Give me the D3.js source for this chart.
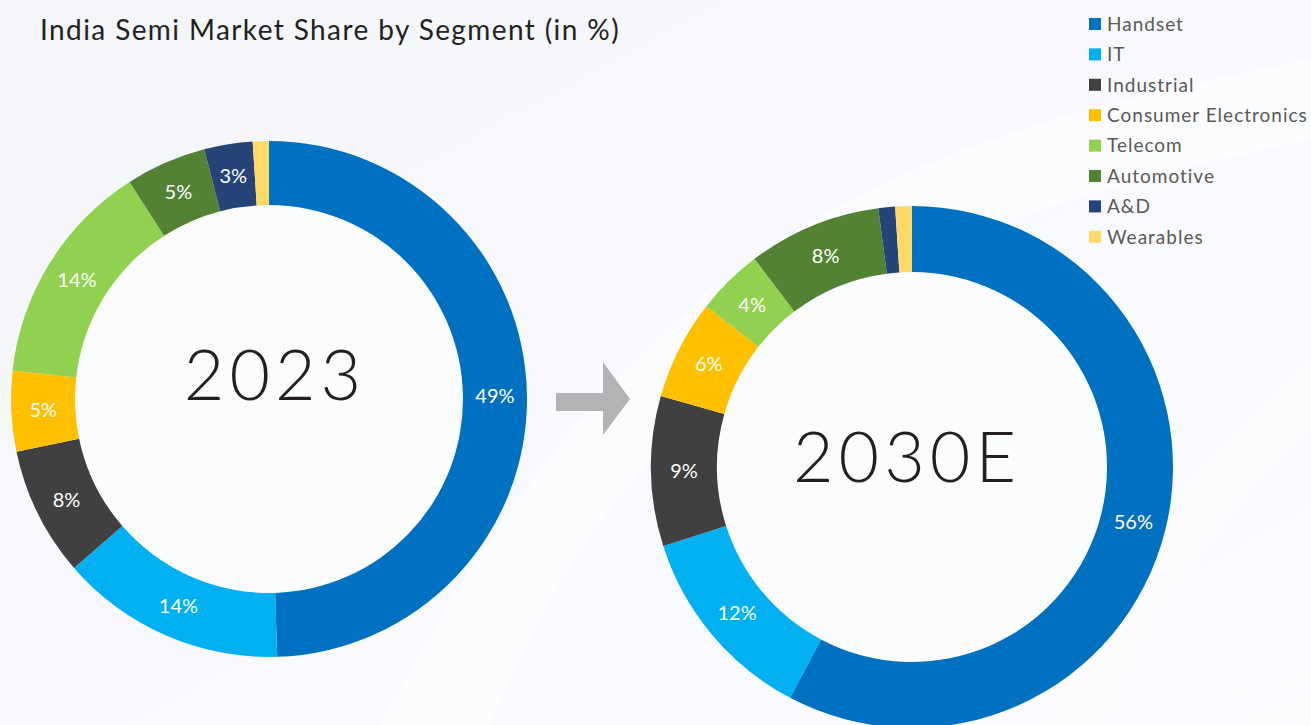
<!DOCTYPE html>
<html>
<head>
<meta charset="utf-8">
<script src="https://cdn.jsdelivr.net/npm/d3@7"></script>
<style>
  body { margin: 0; background: #f6f8fb; overflow: hidden; }
  text { font-family: Lato, "Open Sans", sans-serif; }
</style>
</head>
<body>
<div id="chart"></div>
<script>
// segment shares as printed on the two donuts (in %)
const segments = ["Handset", "IT", "Industrial", "Consumer Electronics", "Telecom", "Automotive", "A&D", "Wearables"];
const share2023 = [49, 14, 8, 5, 14, 5, 3, 1];
const share2030 = [56, 12, 9, 6, 4, 8, 1, 1];
const years = ["2023", "2030E"];
const segColors = ["#0070c0", "#00b0f0", "#404040", "#ffc000", "#92d050", "#548235", "#264478", "#ffd966"];

const width = 1311, height = 725;

const svg = d3.select('#chart')
  .append('svg')
  .attr('width', width)
  .attr('height', height);

// soft background
const defs = svg.append('defs');
const bg = defs.append('linearGradient')
  .attr('id', 'bg')
  .attr('x1', '0').attr('y1', '0')
  .attr('x2', '1').attr('y2', '1');
bg.append('stop').attr('offset', '0%').attr('stop-color', '#f3f5f9');
bg.append('stop').attr('offset', '55%').attr('stop-color', '#f8f9fc');
bg.append('stop').attr('offset', '100%').attr('stop-color', '#fbfcfe');

svg.append('rect')
  .attr('width', width)
  .attr('height', height)
  .attr('fill', 'url(#bg)');

// faint white swooshes
svg.append('path')
  .attr('d', 'M380,725 C470,560 560,420 700,300 C820,200 980,120 1311,60 L1311,140 C1000,200 830,290 720,390 C610,490 540,600 490,725 Z')
  .attr('fill', '#ffffff')
  .attr('opacity', 0.45);
svg.append('path')
  .attr('d', 'M1040,725 C1100,600 1180,470 1311,360 L1311,430 C1210,520 1150,620 1110,725 Z')
  .attr('fill', '#ffffff')
  .attr('opacity', 0.4);

const color = d3.scaleOrdinal()
  .domain(segments)
  .range(segColors);

const pie = d3.pie()
  .sort(null)
  .value(d => d.value);

const donuts = [
  {year: years[0], values: share2023, cx: 269, cy: 399, outer: 258, inner: 194, yearX: 275, yearY: 400},
  {year: years[1], values: share2030, cx: 912, cy: 467, outer: 261, inner: 195, yearX: 907, yearY: 482}
];

donuts.forEach(dn => {
  const data = segments.map((s, i) => ({segment: s, value: dn.values[i]}));
  const arc = d3.arc()
    .innerRadius(dn.inner)
    .outerRadius(dn.outer);

  const g = svg.append('g')
    .attr('transform', `translate(${dn.cx},${dn.cy})`);

  g.append('circle')
    .attr('r', dn.inner)
    .attr('fill', '#fbfcfe');

  g.selectAll('path.slice')
    .data(pie(data))
    .join('path')
    .attr('class', 'slice')
    .attr('d', arc)
    .attr('fill', d => color(d.data.segment));

  // only label the slices that are big enough
  g.selectAll('text.pct')
    .data(pie(data).filter(d => d.data.value > 1))
    .join('text')
    .attr('class', 'pct')
    .attr('x', d => arc.centroid(d)[0])
    .attr('y', d => arc.centroid(d)[1])
    .attr('dy', '0.36em')
    .attr('text-anchor', 'middle')
    .style('font-size', '20px')
    .style('fill', '#ffffff')
    .text(d => d.data.value + '%');

  svg.append('text')
    .attr('x', dn.yearX)
    .attr('y', dn.yearY)
    .attr('text-anchor', 'middle')
    .style('font-size', '70px')
    .style('font-weight', 300)
    .style('letter-spacing', '5px')
    .style('fill', '#231f20')
    .text(dn.year);
});

// arrow between the two years
svg.append('path')
  .attr('d', 'M556,393 L603,393 L603,362 L630,399 L603,435 L603,411 L556,411 Z')
  .attr('fill', '#b3b3b5');

// title
svg.append('text')
  .attr('x', 40)
  .attr('y', 40)
  .style('font-size', '28px')
  .style('letter-spacing', '1.4px')
  .style('fill', '#222222')
  .text('India Semi Market Share by Segment (in %)');

// legend
const legend = svg.append('g')
  .attr('transform', 'translate(1089,18)');

const rows = legend.selectAll('g')
  .data(segments)
  .join('g')
  .attr('transform', (d, i) => `translate(0,${i * 30.4})`);

rows.append('rect')
  .attr('width', 12)
  .attr('height', 12)
  .attr('fill', d => color(d));

rows.append('text')
  .attr('x', 18)
  .attr('y', 6)
  .attr('dy', '0.36em')
  .style('font-size', '19px')
  .style('letter-spacing', '1px')
  .style('fill', '#595959')
  .text(d => d);
</script>
</body>
</html>
